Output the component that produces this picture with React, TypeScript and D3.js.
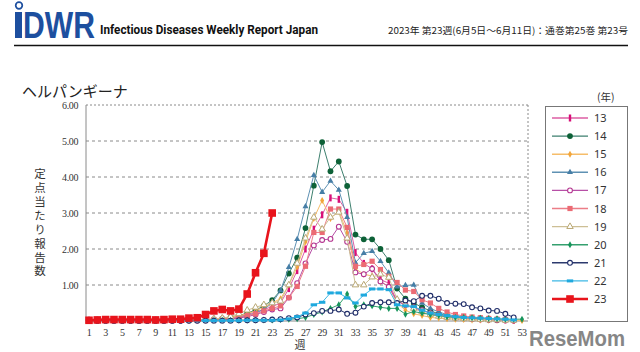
import * as d3 from 'd3';
import React from 'react';

// weeks 1..53 and the labels shown under the axis
const weeks = d3.range(1, 54);
const xTickWeeks = weeks.filter(w => w % 2 === 1);
const yTicks = [1, 2, 3, 4, 5, 6];

// 定点当たり報告数 per year (null = no such week)
const y2013 = [0.02, 0.02, 0.02, 0.02, 0.02, 0.02, 0.02, 0.02, 0.02, 0.02, 0.02, 0.02, 0.03, 0.03, 0.04, 0.05, 0.06, 0.08, 0.12, 0.18, 0.25, 0.32, 0.4, 0.5, 0.9, 1.4, 2.0, 2.55, 2.95, 3.42, 3.38, 3.02, 1.9, 1.6, 1.45, 1.15, 1.05, 0.55, 0.45, 0.35, 0.3, 0.22, 0.18, 0.14, 0.11, 0.09, 0.07, 0.06, 0.05, 0.04, 0.03, 0.02, null];
const y2014 = [0.01, 0.01, 0.01, 0.01, 0.01, 0.01, 0.01, 0.01, 0.01, 0.01, 0.02, 0.02, 0.02, 0.03, 0.03, 0.04, 0.06, 0.1, 0.15, 0.22, 0.3, 0.42, 0.58, 0.85, 1.32, 1.76, 2.58, 3.76, 4.97, 4.16, 4.43, 3.75, 2.4, 2.27, 2.27, 2.0, 1.69, 0.9, 0.62, 0.5, 0.38, 0.28, 0.2, 0.15, 0.11, 0.09, 0.07, 0.05, 0.04, 0.03, 0.03, 0.02, null];
const y2015 = [0.01, 0.01, 0.01, 0.01, 0.01, 0.01, 0.01, 0.01, 0.01, 0.01, 0.01, 0.02, 0.02, 0.03, 0.04, 0.05, 0.07, 0.1, 0.15, 0.2, 0.28, 0.38, 0.5, 0.62, 1.0, 1.5, 2.2, 2.85, 3.35, 2.85, 3.05, 2.45, 1.45, 1.3, 1.25, 1.1, 0.95, 0.5, 0.3, 0.2, 0.15, 0.1, 0.08, 0.06, 0.05, 0.04, 0.03, 0.03, 0.02, 0.02, 0.02, 0.01, 0.01];
const y2016 = [0.01, 0.01, 0.01, 0.01, 0.01, 0.01, 0.01, 0.01, 0.01, 0.01, 0.01, 0.01, 0.02, 0.02, 0.03, 0.03, 0.04, 0.06, 0.1, 0.15, 0.22, 0.32, 0.5, 0.85, 1.49, 2.27, 3.18, 4.05, 3.58, 3.89, 3.64, 2.88, 1.62, 1.88, 1.94, 1.66, 1.34, 0.95, 0.99, 1.0, 0.5, 0.35, 0.25, 0.18, 0.14, 0.11, 0.09, 0.07, 0.05, 0.04, 0.03, 0.02, null];
const y2017 = [0.01, 0.01, 0.01, 0.01, 0.01, 0.01, 0.01, 0.01, 0.01, 0.01, 0.01, 0.01, 0.02, 0.02, 0.02, 0.03, 0.04, 0.05, 0.08, 0.12, 0.18, 0.25, 0.32, 0.35, 0.65, 1.05, 1.6, 2.1, 2.25, 2.28, 2.62, 2.2, 1.35, 1.3, 1.45, 1.1, 0.95, 0.55, 0.45, 0.38, 0.3, 0.22, 0.16, 0.12, 0.1, 0.08, 0.06, 0.05, 0.04, 0.03, 0.02, 0.02, null];
const y2018 = [0.01, 0.01, 0.01, 0.01, 0.01, 0.01, 0.01, 0.01, 0.01, 0.01, 0.01, 0.02, 0.02, 0.02, 0.03, 0.04, 0.05, 0.08, 0.12, 0.15, 0.2, 0.28, 0.35, 0.42, 0.65, 0.96, 1.52, 2.46, 2.46, 3.11, 3.11, 2.6, 1.52, 1.57, 1.66, 1.43, 1.24, 1.07, 0.86, 0.82, 0.59, 0.5, 0.35, 0.25, 0.18, 0.14, 0.11, 0.09, 0.07, 0.05, 0.04, 0.03, null];
const y2019 = [0.01, 0.01, 0.01, 0.01, 0.01, 0.01, 0.01, 0.01, 0.01, 0.01, 0.02, 0.02, 0.03, 0.03, 0.04, 0.06, 0.08, 0.12, 0.2, 0.3, 0.38, 0.45, 0.5, 0.55, 1.0, 1.6, 2.3, 2.88, 2.55, 2.88, 3.02, 2.3, 1.0, 1.0, 1.22, 1.3, 1.21, 0.6, 0.45, 0.35, 0.25, 0.18, 0.13, 0.1, 0.08, 0.06, 0.05, 0.04, 0.03, 0.03, 0.02, 0.02, null];
const y2020 = [0.03, 0.03, 0.03, 0.03, 0.03, 0.03, 0.03, 0.03, 0.03, 0.02, 0.02, 0.02, 0.02, 0.02, 0.02, 0.02, 0.02, 0.02, 0.02, 0.02, 0.03, 0.03, 0.03, 0.04, 0.05, 0.06, 0.1, 0.18, 0.25, 0.35, 0.45, 0.75, 0.4, 0.45, 0.42, 0.38, 0.35, 0.35, 0.19, 0.26, 0.22, 0.18, 0.15, 0.12, 0.1, 0.1, 0.09, 0.08, 0.07, 0.06, 0.05, 0.05, 0.05];
const y2021 = [0.01, 0.01, 0.01, 0.01, 0.01, 0.01, 0.01, 0.01, 0.01, 0.01, 0.01, 0.01, 0.01, 0.01, 0.01, 0.01, 0.01, 0.01, 0.02, 0.02, 0.02, 0.03, 0.04, 0.05, 0.08, 0.1, 0.18, 0.22, 0.28, 0.28, 0.32, 0.2, 0.23, 0.4, 0.5, 0.52, 0.52, 0.5, 0.57, 0.55, 0.7, 0.7, 0.62, 0.5, 0.48, 0.47, 0.38, 0.35, 0.29, 0.28, 0.2, 0.1, null];
const y2022 = [0.01, 0.01, 0.01, 0.01, 0.01, 0.01, 0.01, 0.01, 0.01, 0.01, 0.01, 0.01, 0.01, 0.01, 0.01, 0.01, 0.01, 0.01, 0.01, 0.02, 0.02, 0.02, 0.02, 0.03, 0.06, 0.12, 0.22, 0.45, 0.52, 0.78, 0.78, 0.64, 0.5, 0.72, 0.89, 0.89, 0.87, 0.45, 0.42, 0.4, 0.3, 0.22, 0.18, 0.15, 0.12, 0.1, 0.09, 0.08, 0.07, 0.06, 0.05, 0.03, null];
const y2023 = [0.02, 0.03, 0.04, 0.04, 0.04, 0.04, 0.04, 0.04, 0.03, 0.04, 0.05, 0.05, 0.08, 0.09, 0.18, 0.28, 0.32, 0.28, 0.33, 0.75, 1.34, 1.88, 3.0];

type Shape = 'bar' | 'dot' | 'diamond' | 'tri' | 'ocircle' | 'square' | 'otri' | 'dash' | 'bigsq';

interface Series {
  label: string;
  values: (number | null)[];
  line: string;
  mark: string;
  shape: Shape;
  width: number;
}

const series: Series[] = [
  { label: '13', values: y2013, line: '#dd5ea3', mark: '#d80f78', shape: 'bar', width: 1 },
  { label: '14', values: y2014, line: '#3d7f6e', mark: '#0d6137', shape: 'dot', width: 1 },
  { label: '15', values: y2015, line: '#f6bd6a', mark: '#f2a53a', shape: 'diamond', width: 1 },
  { label: '16', values: y2016, line: '#5e91b3', mark: '#467ea6', shape: 'tri', width: 1 },
  { label: '17', values: y2017, line: '#b74fa6', mark: '#b4348f', shape: 'ocircle', width: 1 },
  { label: '18', values: y2018, line: '#ec7d87', mark: '#eb6b74', shape: 'square', width: 1 },
  { label: '19', values: y2019, line: '#cdbf95', mark: '#b9a874', shape: 'otri', width: 1 },
  { label: '20', values: y2020, line: '#35a06f', mark: '#16955b', shape: 'diamond', width: 1 },
  { label: '21', values: y2021, line: '#2c3a6e', mark: '#1e2c68', shape: 'ocircle', width: 1 },
  { label: '22', values: y2022, line: '#3eb8e5', mark: '#1fa9de', shape: 'dash', width: 1 },
  { label: '23', values: y2023, line: '#e8141c', mark: '#e8141c', shape: 'bigsq', width: 2.6 },
];

const yAxisTitle = '定点当たり報告数';

const W = 640;
const H = 352;
const plot = { left: 86, right: 528, top: 105, bottom: 321 };

const xScale = d3.scaleLinear().domain([1, 53]).range([89, 522]);
const yScale = d3.scaleLinear().domain([0, 6]).range([plot.bottom, plot.top]);

const symbolPath = (type: d3.SymbolType, size: number) => d3.symbol(type, size)() || '';

const Marker: React.FC<{ shape: Shape; x: number; y: number; color: string }> = ({ shape, x, y, color }) => {
  const t = `translate(${x},${y})`;
  switch (shape) {
    case 'bar':
      return <rect x={x - 1.2} y={y - 3.5} width={2.4} height={7} fill={color} />;
    case 'dot':
      return <circle cx={x} cy={y} r={2.9} fill={color} />;
    case 'diamond':
      return <path transform={t} d={symbolPath(d3.symbolDiamond, 14)} fill={color} />;
    case 'tri':
      return <path transform={t} d={symbolPath(d3.symbolTriangle, 16)} fill={color} />;
    case 'ocircle':
      return <circle cx={x} cy={y} r={2.4} fill="#fff" stroke={color} strokeWidth={1.1} />;
    case 'square':
      return <rect x={x - 2.6} y={y - 2.6} width={5.2} height={5.2} fill={color} />;
    case 'otri':
      return <path transform={t} d={symbolPath(d3.symbolTriangle, 18)} fill="#fff" stroke={color} strokeWidth={1} />;
    case 'dash':
      return <rect x={x - 3.2} y={y - 1.5} width={6.4} height={3} fill={color} />;
    case 'bigsq':
      return <rect x={x - 3.8} y={y - 3.8} width={7.6} height={7.6} fill={color} />;
  }
  return null;
};

const App: React.FC = () => {
  const line = d3.line<number | null>()
    .defined(v => v != null)
    .x((_, i) => xScale(i + 1))
    .y(v => yScale(v as number));

  const legendTop = 118;
  const legendStep = 18.1;

  return (
    <div style={{ position: 'fixed', left: 0, top: 0 }}>
      <svg width={W} height={H} style={{ display: 'block', background: '#fff' }}>
        {/* header */}
        <g fill="#1d4f9f">
          <rect x={15} y={12} width={7} height={26} />
          <circle cx={19} cy={5.5} r={3.3} fill="none" stroke="#1d4f9f" strokeWidth={1.7} />
          <text x={23} y={38} fontFamily="Liberation Sans" fontWeight="bold" fontSize={36}
            textLength={72} lengthAdjust="spacingAndGlyphs">DWR</text>
        </g>
        <text x={100} y={34} fontFamily="Roboto" fontWeight="bold" fontSize={12.5}
          textLength={218} lengthAdjust="spacingAndGlyphs" fill="#111">Infectious Diseases Weekly Report Japan</text>
        <text x={388} y={34} fontFamily="Noto Sans CJK JP" fontSize={9.5}
          textLength={240} lengthAdjust="spacingAndGlyphs" fill="#222">2023年 第23週(6月5日～6月11日)：通巻第25巻 第23号</text>
        <line x1={14} x2={628} y1={45.5} y2={45.5} stroke="#111" strokeWidth={1.6} />

        {/* titles */}
        <text x={22} y={97} fontFamily="Noto Sans CJK JP" fontSize={15} fill="#222">ヘルパンギーナ</text>
        <text x={40} y={168} fontFamily="Noto Sans CJK JP" fontSize={11.5} fill="#333"
          style={{ writingMode: 'vertical-rl' }} letterSpacing={2.4}>{yAxisTitle}</text>
        <text x={300} y={349} textAnchor="middle" fontFamily="Noto Sans CJK JP" fontSize={11} fill="#333">週</text>

        {/* grid */}
        {yTicks.map(t => (
          <line key={t} x1={plot.left} x2={plot.right} y1={yScale(t)} y2={yScale(t)}
            stroke="#8a8a8a" strokeWidth={1} strokeDasharray={t === 6 ? '2,2' : '3,3'} />
        ))}
        <line x1={plot.right} x2={plot.right} y1={plot.top} y2={plot.bottom} stroke="#8a8a8a" strokeDasharray="2,2" />
        <line x1={plot.left} x2={plot.left} y1={plot.top} y2={plot.bottom} stroke="#8a8a8a" />
        <line x1={plot.left} x2={plot.right} y1={plot.bottom} y2={plot.bottom} stroke="#8a8a8a" />

        {/* axis labels */}
        <g fontFamily="Liberation Serif" fontSize={10} fill="#333">
          {yTicks.map(t => (
            <text key={t} x={78} y={yScale(t) + 3.5} textAnchor="end" letterSpacing={-0.4}>{t.toFixed(2)}</text>
          ))}
          {xTickWeeks.map(w => (
            <text key={w} x={xScale(w)} y={336} textAnchor="middle" letterSpacing={-0.4}>{w}</text>
          ))}
        </g>

        {/* series */}
        {series.map(s => (
          <g key={s.label}>
            <path d={line(s.values) || ''} fill="none" stroke={s.line} strokeWidth={s.width} />
            {s.values.map((v, i) => v == null ? null : (
              <Marker key={i} shape={s.shape} x={xScale(i + 1)} y={yScale(v)} color={s.mark} />
            ))}
          </g>
        ))}

        {/* legend */}
        <text x={597} y={101} fontFamily="Noto Sans CJK JP" fontSize={10.5} fill="#333">(年)</text>
        <rect x={545.5} y={106.5} width={82} height={215} fill="#fff" stroke="#777" />
        {series.map((s, i) => {
          const ly = legendTop + i * legendStep;
          return (
            <g key={s.label}>
              <line x1={552} x2={588} y1={ly} y2={ly} stroke={s.line} strokeWidth={s.width === 1 ? 1.4 : 2.6} />
              <Marker shape={s.shape} x={570} y={ly} color={s.mark} />
              <text x={594} y={ly + 4} fontFamily="Noto Sans" fontSize={11} fill="#333">{s.label}</text>
            </g>
          );
        })}

        {/* watermark */}
        <text x={529} y={346} fontFamily="Liberation Sans" fontWeight="bold" fontSize={22}
          textLength={96} lengthAdjust="spacingAndGlyphs" fill="#7a7a7a" opacity={0.9}>ReseMom</text>
      </svg>
    </div>
  );
};

export default App;
